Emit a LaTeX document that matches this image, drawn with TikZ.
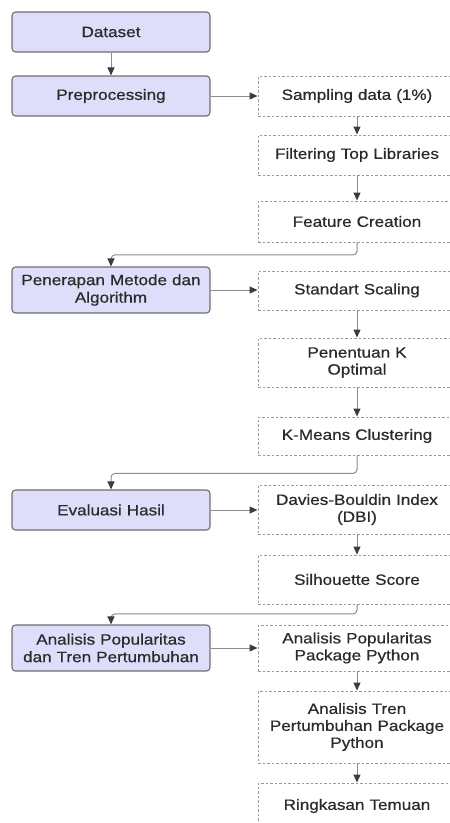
\documentclass[tikz,border=0pt]{standalone}
\usepackage{fontspec}
\setmainfont[FakeStretch=1.14,FakeBold=0.6]{Liberation Sans}
\usetikzlibrary{arrows.meta}
\definecolor{boxfill}{HTML}{DEDEFA}
\definecolor{boxline}{HTML}{6E6E72}
\definecolor{dashline}{HTML}{9A9A9A}
\definecolor{connline}{HTML}{8C8C90}
\definecolor{tipcol}{HTML}{363C48}
\definecolor{txt}{HTML}{2A2A2A}
\tikzset{
  mainbox/.style={draw=boxline, fill=boxfill, line width=1.1pt, rounded corners=3.5pt,
    minimum width=198pt, text width=194pt, align=center, inner sep=0pt,
    font=\fontsize{15}{17.5}\selectfont, text=txt},
  subbox/.style={draw=dashline, line width=0.9pt, dash pattern=on 2.5pt off 2pt,
    minimum width=198pt, text width=194pt, align=center, inner sep=0pt,
    font=\fontsize{15}{17}\selectfont, text=txt},
  conn/.style={draw=connline, line width=1pt,
    -{Triangle[length=8pt,width=7pt,color=tipcol]}},
}
\begin{document}
\begin{tikzpicture}[x=1pt,y=-1pt]
\useasboundingbox (0,0) rectangle (450,823);
\clip (0,0) rectangle (450,823);
% left column
\node[mainbox, minimum height=40pt] (ds) at (111,32) {Dataset};
\node[mainbox, minimum height=40pt] (pre) at (111,96) {Preprocessing};
\node[mainbox, minimum height=46pt] (pen) at (111,290) {Penerapan Metode dan\\Algorithm};
\node[mainbox, minimum height=40pt] (eva) at (111,510) {Evaluasi Hasil};
\node[mainbox, minimum height=46pt] (ana) at (111,648) {Analisis Popularitas\\dan Tren Pertumbuhan};
% right column
\node[subbox, minimum height=40pt] (samp) at (357,96) {Sampling data (1\%)};
\node[subbox, minimum height=40pt] (filt) at (357,155) {Filtering Top Libraries};
\node[subbox, minimum height=41pt] (feat) at (357,221.5) {Feature Creation};
\node[subbox, minimum height=39pt] (std) at (357,290.5) {Standart Scaling};
\node[subbox, minimum height=49pt] (kopt) at (357,362.5) {Penentuan K\\Optimal};
\node[subbox, minimum height=38pt] (kmeans) at (357,436) {K-Means Clustering};
\node[subbox, minimum height=49pt] (dbi) at (357,509.5) {Davies-Bouldin Index\\(DBI)};
\node[subbox, minimum height=49pt] (sil) at (357,579.5) {Silhouette Score};
\node[subbox, minimum height=46pt] (apop) at (357,648) {Analisis Popularitas\\Package Python};
\node[subbox, minimum height=72pt] (atren) at (357,727) {Analisis Tren\\Pertumbuhan Package\\Python};
\node[subbox, minimum height=46pt] (ring) at (357,806) {Ringkasan Temuan};
% connectors
\draw[conn] (ds) -- (pre);
\draw[conn] (pre) -- (samp);
\draw[conn] (samp) -- (filt);
\draw[conn] (filt) -- (feat);
\draw[conn, rounded corners=4pt] (feat.south) -- ++(0,12.5) -| (pen.north);
\draw[conn] (pen.east) -- (pen.east -| std.west);
\draw[conn] (std) -- (kopt);
\draw[conn] (kopt) -- (kmeans);
\draw[conn, rounded corners=4pt] (kmeans.south) -- ++(0,18) -| (eva.north);
\draw[conn] (eva.east) -- (eva.east -| dbi.west);
\draw[conn] (dbi) -- (sil);
\draw[conn, rounded corners=4pt] (sil.south) -- ++(0,9.5) -| (ana.north);
\draw[conn] (ana) -- (apop);
\draw[conn] (apop) -- (atren);
\draw[conn] (atren) -- (ring);
\end{tikzpicture}
\end{document}
